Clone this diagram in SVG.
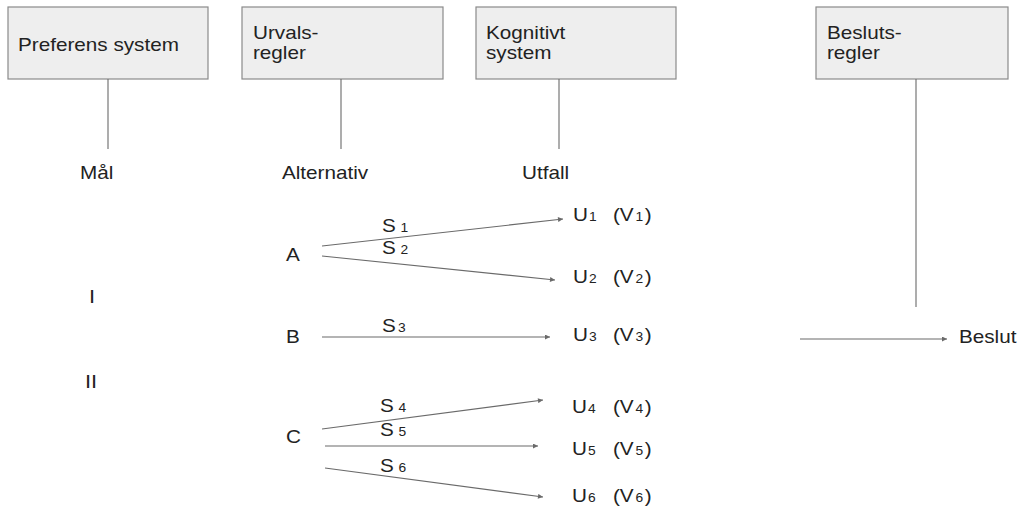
<svg xmlns="http://www.w3.org/2000/svg" width="1017" height="512" viewBox="0 0 1017 512">
<defs>
<style>
text{font-family:"Liberation Sans",Arial,sans-serif;fill:#222;font-size:18px;transform-box:fill-box;transform-origin:0 50%;transform:scaleX(1.15)}
.sub{font-size:12px}
.box{fill:#eeeeee;stroke:#8a8a8a;stroke-width:1.2}
.ln{stroke:#6a6a6a;stroke-width:1.1;fill:none}
.ar{stroke:#6a6a6a;stroke-width:1.1;fill:none;marker-end:url(#ah)}
.big{font-size:19px}
</style>
<marker id="ah" viewBox="0 0 10 10" refX="10" refY="5" markerWidth="7" markerHeight="5" markerUnits="userSpaceOnUse" orient="auto">
<path d="M0,0 L10,5 L0,10 z" fill="#6a6a6a"/>
</marker>
</defs>
<g id="node-preferens"><rect class="box" x="8" y="7" width="200" height="72"/><text x="18" y="51">Preferens system</text></g>
<g id="node-urvalsregler"><rect class="box" x="242" y="7" width="201" height="72"/><text x="253" y="39">Urvals-</text><text x="253" y="59">regler</text></g>
<g id="node-kognitivt"><rect class="box" x="476" y="7" width="200" height="72"/><text x="486" y="39">Kognitivt</text><text x="486" y="59">system</text></g>
<g id="node-beslutsregler"><rect class="box" x="816" y="7" width="192" height="72"/><text x="827" y="39">Besluts-</text><text x="827" y="59">regler</text></g>
<g id="node-mal"><text x="80" y="179">Mål</text></g>
<g id="node-alternativ"><text x="282" y="179">Alternativ</text></g>
<g id="node-utfall"><text x="522" y="179">Utfall</text></g>
<g id="node-I"><text class="big" x="89" y="303">I</text></g>
<g id="node-II"><text class="big" x="85" y="388">II</text></g>
<g id="node-A"><text x="286" y="261">A</text></g>
<g id="node-B"><text x="286" y="343">B</text></g>
<g id="node-C"><text x="286" y="443">C</text></g>
<g id="node-U1"><text x="573" y="221">U<tspan class="sub" dx="1">1</tspan></text><text x="613" y="221">(V<tspan class="sub" dx="1.5">1</tspan><tspan dx="1.5">)</tspan></text></g>
<g id="node-U2"><text x="573" y="283">U<tspan class="sub" dx="1">2</tspan></text><text x="613" y="283">(V<tspan class="sub" dx="1.5">2</tspan><tspan dx="1.5">)</tspan></text></g>
<g id="node-U3"><text x="573" y="341">U<tspan class="sub" dx="1">3</tspan></text><text x="613" y="341">(V<tspan class="sub" dx="1.5">3</tspan><tspan dx="1.5">)</tspan></text></g>
<g id="node-U4"><text x="572" y="413">U<tspan class="sub" dx="1">4</tspan></text><text x="613" y="413">(V<tspan class="sub" dx="1.5">4</tspan><tspan dx="1.5">)</tspan></text></g>
<g id="node-U5"><text x="572" y="455">U<tspan class="sub" dx="1">5</tspan></text><text x="613" y="455">(V<tspan class="sub" dx="1.5">5</tspan><tspan dx="1.5">)</tspan></text></g>
<g id="node-U6"><text x="572" y="502">U<tspan class="sub" dx="1">6</tspan></text><text x="613" y="502">(V<tspan class="sub" dx="1.5">6</tspan><tspan dx="1.5">)</tspan></text></g>
<g id="node-beslut"><text x="959" y="343">Beslut</text></g>
<g id="connectors">
<line class="ln" x1="108" y1="79" x2="108" y2="149"/>
<line class="ln" x1="341" y1="79" x2="341" y2="149"/>
<line class="ln" x1="559" y1="79" x2="559" y2="149"/>
<line class="ln" x1="916" y1="79" x2="916" y2="307"/>
<line class="ar" x1="322" y1="246" x2="563" y2="219"/>
<line class="ar" x1="322" y1="256" x2="555" y2="280"/>
<line class="ar" x1="322" y1="337" x2="550" y2="337"/>
<line class="ar" x1="322" y1="429" x2="543" y2="400"/>
<line class="ar" x1="325" y1="446" x2="538" y2="446"/>
<line class="ar" x1="325" y1="468" x2="543" y2="497"/>
<line class="ar" x1="800" y1="339" x2="947" y2="339"/>
</g>
<g id="edge-labels">
<text x="382" y="232">S<tspan class="sub" dx="4">1</tspan></text>
<text x="382" y="254">S<tspan class="sub" dx="4">2</tspan></text>
<text x="382" y="332">S<tspan class="sub" dx="2">3</tspan></text>
<text x="380" y="412">S<tspan class="sub" dx="4">4</tspan></text>
<text x="380" y="436">S<tspan class="sub" dx="4">5</tspan></text>
<text x="380" y="472">S<tspan class="sub" dx="4">6</tspan></text>
</g>
</svg>
